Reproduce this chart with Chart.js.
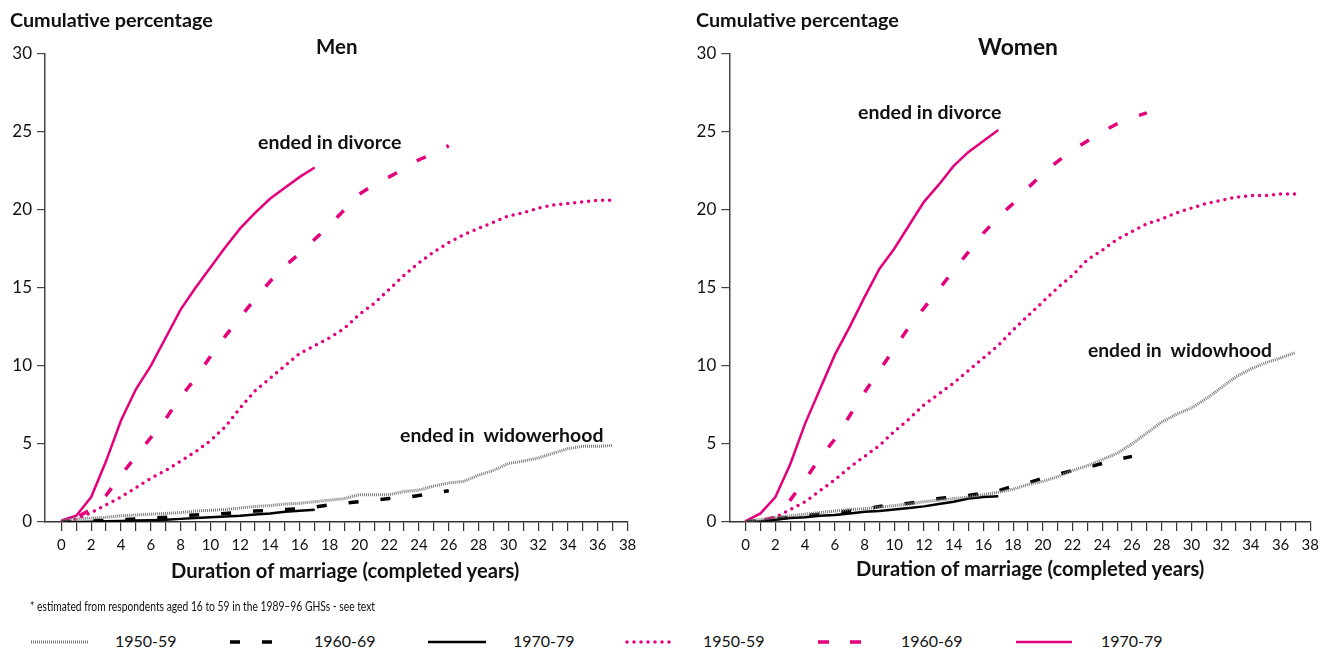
<!DOCTYPE html>
<html>
<head>
<meta charset="utf-8">
<script src="https://cdn.jsdelivr.net/npm/chart.js@4.4.1/dist/chart.umd.min.js"></script>
<style>
  body { margin: 0; background: #fff; font-family: Lato, "Open Sans", sans-serif; color: #111; }
  #page { position: relative; width: 1329px; height: 653px; overflow: hidden; }
  .box { position: absolute; top: 0; height: 600px; }
  .t { position: absolute; white-space: nowrap; font-weight: bold; line-height: 1; }
  .leg { position: absolute; top: 633px; font-size: 16px; white-space: nowrap; line-height: 1; }
  svg.s { position: absolute; top: 636px; }
</style>
</head>
<body>
<div id="page">
  <div class="box" style="left:0;width:660px"><canvas id="men"></canvas></div>
  <div class="box" style="left:684px;width:640px"><canvas id="women"></canvas></div>

  <div class="t" data-w="203" data-cy="20" style="left:10px;font-size:15px">Cumulative percentage</div>
  <div class="t" data-w="203" data-cy="20" style="left:696px;font-size:15px">Cumulative percentage</div>
  <div class="t" data-w="42" data-cy="46" style="left:316px;font-size:18px">Men</div>
  <div class="t" data-w="80" data-cy="46" style="left:978px;font-size:18px">Women</div>
  <div class="t" data-w="144" data-cy="142" style="left:258px;font-size:16px">ended in divorce</div>
  <div class="t" data-w="144" data-cy="112" style="left:858px;font-size:16px">ended in divorce</div>
  <div class="t" data-w="203" data-cy="435" style="left:400px;font-size:16px">ended in&nbsp; widowerhood</div>
  <div class="t" data-w="184" data-cy="350" style="left:1088px;font-size:16px">ended in&nbsp; widowhood</div>
  <div class="t" data-w="349" data-cy="570" style="left:171px;font-size:16px">Duration of marriage (completed years)</div>
  <div class="t" data-w="349" data-cy="568" style="left:856px;font-size:16px">Duration of marriage (completed years)</div>
  <div class="t" data-sx="345" data-cy="607" style="left:30px;font-size:12.5px;font-weight:normal;transform-origin:0 50%">* estimated from respondents aged 16 to 59 in the 1989–96 GHSs - see text</div>

  <svg class="s" style="left:30px" width="60" height="12"><line x1="1" y1="6" x2="59" y2="6" stroke="#777" stroke-width="3" stroke-dasharray="1 1"/></svg>
  <div class="leg" style="left:115px">1950-59</div>
  <svg class="s" style="left:228px" width="50" height="12"><line x1="2" y1="6" x2="46" y2="6" stroke="#000" stroke-width="3.5" stroke-dasharray="10 22"/></svg>
  <div class="leg" style="left:314px">1960-69</div>
  <svg class="s" style="left:426px" width="64" height="12"><line x1="2" y1="6" x2="60" y2="6" stroke="#000" stroke-width="2.5"/></svg>
  <div class="leg" style="left:513px">1970-79</div>
  <svg class="s" style="left:625px" width="50" height="12"><line x1="2" y1="6" x2="46" y2="6" stroke="#e4007c" stroke-width="3.5" stroke-linecap="round" stroke-dasharray="0 7"/></svg>
  <div class="leg" style="left:703px">1950-59</div>
  <svg class="s" style="left:816px" width="50" height="12"><line x1="2" y1="6" x2="46" y2="6" stroke="#e4007c" stroke-width="3.5" stroke-dasharray="11 21"/></svg>
  <div class="leg" style="left:901px">1960-69</div>
  <svg class="s" style="left:1014px" width="64" height="12"><line x1="2" y1="6" x2="58" y2="6" stroke="#e4007c" stroke-width="2.5"/></svg>
  <div class="leg" style="left:1101px">1970-79</div>
</div>

<script>
// duration of marriage, completed years
const years = [0,1,2,3,4,5,6,7,8,9,10,11,12,13,14,15,16,17,18,19,20,21,22,23,24,25,26,27,28,29,30,31,32,33,34,35,36,37];
const xTicks = [0,1,2,3,4,5,6,7,8,9,10,11,12,13,14,15,16,17,18,19,20,21,22,23,24,25,26,27,28,29,30,31,32,33,34,35,36,37,38];
const yTicks = [0,5,10,15,20,25,30];

// men - ended in divorce
const menDiv5059 = [0,0.2,0.6,1.1,1.6,2.2,2.8,3.3,3.9,4.5,5.2,6.1,7.3,8.4,9.2,10.0,10.8,11.3,11.8,12.4,13.3,14.0,14.9,15.8,16.6,17.3,17.9,18.4,18.8,19.2,19.6,19.8,20.1,20.3,20.4,20.5,20.6,20.6];
const menDiv6069 = [0,0.3,0.8,1.7,3.0,4.2,5.4,6.6,8.0,9.2,10.6,11.9,13.1,14.3,15.4,16.4,17.2,18.1,19.0,20.0,21.0,21.6,22.1,22.6,23.2,23.6,24.1];
const menDiv7079 = [0.1,0.4,1.6,3.9,6.5,8.5,10.0,11.8,13.6,15.0,16.3,17.6,18.8,19.8,20.7,21.4,22.1,22.7];
// men - ended in widowerhood
const menWid5059 = [0.1,0.2,0.25,0.3,0.4,0.45,0.5,0.55,0.6,0.7,0.75,0.8,0.9,1.0,1.05,1.15,1.2,1.3,1.4,1.5,1.75,1.75,1.75,1.95,2.05,2.3,2.5,2.6,3.0,3.3,3.75,3.9,4.1,4.4,4.7,4.85,4.85,4.9];
const menWid6069 = [0,0.05,0.1,0.1,0.15,0.2,0.25,0.3,0.4,0.45,0.5,0.55,0.6,0.7,0.75,0.8,0.85,0.95,1.1,1.2,1.3,1.4,1.5,1.55,1.7,1.85,2.0];
const menWid7079 = [0,0,0.02,0.05,0.07,0.1,0.12,0.15,0.2,0.25,0.3,0.35,0.4,0.48,0.55,0.65,0.72,0.78];

// women - ended in divorce
const womenDiv5059 = [0,0,0.3,0.8,1.3,2.0,2.7,3.5,4.2,4.9,5.8,6.6,7.5,8.2,8.9,9.7,10.5,11.3,12.3,13.2,14.1,15.0,15.8,16.8,17.4,18.1,18.6,19.1,19.4,19.8,20.1,20.4,20.6,20.8,20.9,20.9,21.0,21.0];
const womenDiv6069 = [0,0.1,0.3,1.4,2.7,4.1,5.3,6.8,8.3,9.7,11.1,12.5,13.7,14.9,16.1,17.3,18.5,19.5,20.4,21.4,22.3,23.1,23.8,24.4,25.0,25.5,25.9,26.2];
const womenDiv7079 = [0.05,0.55,1.6,3.7,6.3,8.5,10.7,12.5,14.4,16.2,17.5,19.0,20.5,21.6,22.8,23.7,24.4,25.1];
// women - ended in widowhood
const womenWid5059 = [0.05,0.15,0.3,0.4,0.5,0.6,0.7,0.8,0.85,0.95,1.05,1.15,1.3,1.4,1.5,1.6,1.75,1.9,2.1,2.4,2.6,2.9,3.3,3.6,4.0,4.4,5.0,5.7,6.4,6.9,7.3,7.9,8.6,9.3,9.8,10.2,10.5,10.85];
const womenWid6069 = [0,0.1,0.2,0.3,0.4,0.5,0.6,0.7,0.8,1.0,1.1,1.2,1.35,1.5,1.6,1.7,1.85,2.0,2.3,2.5,2.8,3.05,3.3,3.5,3.75,4.0,4.2];
const womenWid7079 = [0,0.05,0.15,0.25,0.3,0.4,0.45,0.55,0.65,0.7,0.8,0.9,1.0,1.15,1.3,1.5,1.6,1.65];

const pink = "#e4007c";
const font = "Lato, 'Open Sans', sans-serif";

// size the html labels to the widths they have in the original, then centre them on their line
document.querySelectorAll(".t").forEach(el => {
    let size = parseFloat(el.style.fontSize);
    if (el.dataset.w) {
        size = size * el.dataset.w / el.offsetWidth;
        el.style.fontSize = size.toFixed(2) + "px";
    }
    if (el.dataset.sx) {
        el.style.transform = "scaleX(" + (el.dataset.sx / el.offsetWidth).toFixed(3) + ")";
    }
    el.style.top = (el.dataset.cy - 0.5 * size).toFixed(1) + "px";
});

function pts(vals) {
    return vals.map((v, i) => ({ x: years[i], y: v }));
}

function line(vals, color, width, dash, cap, offset) {
    return {
        data: pts(vals),
        borderColor: color,
        borderWidth: width,
        borderDash: dash,
        borderDashOffset: offset || 0,
        borderCapStyle: cap || "butt",
        pointRadius: 0,
        tension: 0,
        fill: false
    };
}

function makeChart(id, sets, yWidth, padRight) {
    let ctx = document.getElementById(id).getContext("2d");
    return new Chart(ctx, {
        type: "line",
        data: {
            datasets: [
                line(sets[0], "#7a7a7a", 3, [1, 1]),
                line(sets[1], "#000", 3.5, [10, 22]),
                line(sets[2], "#000", 2.5, []),
                line(sets[3], pink, 3.5, [0, 7], "round"),
                line(sets[4], pink, 3.5, [10, 23], "butt", 14),
                line(sets[5], pink, 2.5, [])
            ]
        },
        options: {
            responsive: true,
            maintainAspectRatio: false,
            animation: false,
            layout: { padding: { left: 0, top: 53.5, right: padRight, bottom: 38 } },
            plugins: { legend: { display: false }, tooltip: { enabled: false } },
            scales: {
                x: {
                    type: "linear",
                    min: -1.1,
                    max: 38,
                    afterBuildTicks: axis => { axis.ticks = xTicks.map(v => ({ value: v })); },
                    afterFit: axis => { axis.height = 40; },
                    ticks: {
                        autoSkip: false,
                        maxRotation: 0,
                        padding: 5,
                        color: "#111",
                        font: { family: font, size: 15 },
                        callback: v => (v % 2 === 0 ? String(v) : "")
                    },
                    grid: { drawOnChartArea: false, tickLength: 9, color: "#333", lineWidth: 1.2 },
                    border: { color: "#333", width: 1.5 }
                },
                y: {
                    min: 0,
                    max: 30,
                    afterBuildTicks: axis => { axis.ticks = yTicks.map(v => ({ value: v })); },
                    afterFit: axis => { axis.width = yWidth; },
                    ticks: {
                        padding: 5,
                        color: "#111",
                        font: { family: font, size: 17 }
                    },
                    grid: { drawOnChartArea: false, tickLength: 8, color: "#444", lineWidth: 1.2 },
                    border: { color: "#444", width: 1.5 }
                }
            }
        }
    });
}

makeChart("men", [menWid5059, menWid6069, menWid7079, menDiv5059, menDiv6069, menDiv7079], 45, 32.4);
makeChart("women", [womenWid5059, womenWid6069, womenWid7079, womenDiv5059, womenDiv6069, womenDiv7079], 45.3, 12.9);
</script>
</body>
</html>
